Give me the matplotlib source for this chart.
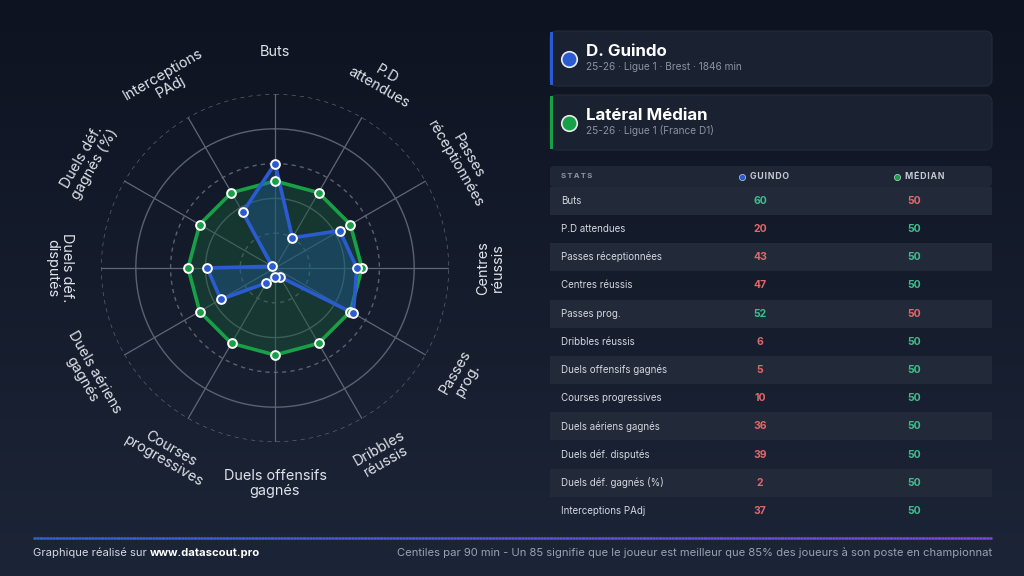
import numpy as np
import matplotlib
matplotlib.use("Agg")
import matplotlib.pyplot as plt
from matplotlib.colors import LinearSegmentedColormap
from matplotlib.patches import FancyBboxPatch, Rectangle

plt.rcParams['font.family'] = ['Inter', 'DejaVu Sans']

# data
stats = ["Buts", "P.D attendues", "Passes réceptionnées", "Centres réussis",
         "Passes prog.", "Dribbles réussis", "Duels offensifs gagnés",
         "Courses progressives", "Duels aériens gagnés", "Duels déf. disputés",
         "Duels déf. gagnés (%)", "Interceptions PAdj"]
radar_labels = ["Buts", "P.D\nattendues", "Passes\nréceptionnées", "Centres\nréussis",
                "Passes\nprog.", "Dribbles\nréussis", "Duels offensifs\ngagnés",
                "Courses\nprogressives", "Duels aériens\ngagnés", "Duels déf.\ndisputés",
                "Duels déf.\ngagnés (%)", "Interceptions\nPAdj"]
guindo = [60, 20, 43, 47, 52, 6, 5, 10, 36, 39, 2, 37]
median = [50, 50, 50, 50, 50, 50, 50, 50, 50, 50, 50, 50]

player_name = "D. Guindo"
player_info = "25-26 · Ligue 1 · Brest · 1846 min"
ref_name = "Latéral Médian"
ref_info = "25-26 · Ligue 1 (France D1)"

BLUE = "#2b5bd0"
GREEN = "#17a046"
UP = "#3dbf8c"
DOWN = "#e2676b"


def spaced(s, sep='\u200a'):
    return sep.join(s)


fig = plt.figure(figsize=(10.24, 5.76), dpi=100)

# background in pixel coords
bg = fig.add_axes([0, 0, 1, 1])
bg.set_xlim(0, 1024)
bg.set_ylim(576, 0)
bg.axis('off')
cmap_bg = LinearSegmentedColormap.from_list("bg", ["#0e1321", "#1c2537"])
grad = np.linspace(0, 1, 256).reshape(-1, 1)
bg.imshow(grad, extent=[0, 1024, 576, 0], aspect='auto', cmap=cmap_bg, zorder=0)

# player cards
cards = [(31, player_name, player_info, BLUE), (95, ref_name, ref_info, GREEN)]
for y, name, info, col in cards:
    bg.add_patch(FancyBboxPatch((550, y), 442, 55, boxstyle="round,pad=0,rounding_size=7",
                                fc="#1a2130", ec="#232b3b", lw=0.8, zorder=1))
    bg.add_patch(Rectangle((550, y + 1), 3, 53, fc=col, ec='none', zorder=2))
    bg.scatter([569], [y + 28], s=125, c=col, edgecolors='#e8ebf0', linewidths=1.2, zorder=3)
    bg.text(586, y + 20, name, color='white', fontsize=12.2, fontweight='bold', va='center', zorder=3)
    bg.text(586, y + 36, info, color='#8a92a2', fontsize=7.3, va='center', zorder=3)

# table
tx0, tw = 550, 442
bg.add_patch(FancyBboxPatch((tx0, 166), tw, 21, boxstyle="round,pad=0,rounding_size=4",
                            fc="#1f2737", ec='none', zorder=1))
bg.text(561, 176, spaced("STATS", '\u2009'), color='#8e96a5', fontsize=5.6, fontweight='bold',
        va='center', zorder=3)
col_g, col_m = 760, 914
bg.scatter([742], [176.5], s=20, c=BLUE, edgecolors='#c8cdd6', linewidths=0.5, zorder=3)
bg.text(750, 176.5, spaced("GUINDO"), color='#c4c9d2', fontsize=6.3, fontweight='bold',
        va='center', zorder=3)
bg.scatter([897], [176.5], s=20, c=GREEN, edgecolors='#c8cdd6', linewidths=0.5, zorder=3)
bg.text(905, 176.5, spaced("MÉDIAN"), color='#c4c9d2', fontsize=6.3, fontweight='bold',
        va='center', zorder=3)

row0, rh = 186.7, 28.2
for i, (s, g, m) in enumerate(zip(stats, guindo, median)):
    yt = row0 + rh * i
    if i % 2 == 0:
        bg.add_patch(Rectangle((tx0, yt), tw, rh, fc="#222a3a", ec='none', zorder=1))
    yc = yt + rh / 2
    bg.text(561, yc, s, color='#d3d7df', fontsize=7, va='center', zorder=3)
    bg.text(col_g, yc, str(g), color=UP if g > m else DOWN, fontsize=7.5,
            fontweight='bold', ha='center', va='center', zorder=3)
    bg.text(col_m, yc, str(m), color=UP if m >= g else DOWN, fontsize=7.5,
            fontweight='bold', ha='center', va='center', zorder=3)

# footer
line_x = np.linspace(33, 992, 300)
cmap_line = LinearSegmentedColormap.from_list("ln", ["#3560d8", "#7a48e0"])
for k in range(len(line_x) - 1):
    bg.plot(line_x[k:k + 2], [538, 538], color=cmap_line(k / (len(line_x) - 1)),
            lw=1.8, solid_capstyle='butt', zorder=3)
t1 = bg.text(33, 553, "Graphique réalisé sur ", color='#d3d7df', fontsize=8.1, va='center', zorder=3)
bg.annotate("www.datascout.pro", xy=(1, 0.5), xycoords=t1, xytext=(0, 0), textcoords='offset points',
            color='white', fontsize=8.1, fontweight='bold', va='center', ha='left', zorder=3)
bg.text(992, 553, "Centiles par 90 min - Un 85 signifie que le joueur est meilleur que 85% des joueurs à son poste en championnat",
        color='#9aa1ae', fontsize=8.1, va='center', ha='right', zorder=3)

# radar
cx, cy, R = 275, 268, 174
ax = fig.add_axes([(cx - R) / 1024, (576 - cy - R) / 576, 2 * R / 1024, 2 * R / 576], polar=True)
ax.set_facecolor('none')
ax.set_theta_zero_location('N')
ax.set_theta_direction(-1)
ax.set_ylim(0, 100)
ax.grid(False)
ax.spines['polar'].set_visible(False)
ax.set_xticks([])
ax.set_yticks([])

n = len(stats)
theta = np.arange(n) * 2 * np.pi / n
tt = np.linspace(0, 2 * np.pi, 400)
for r, ls in [(20, (0, (3, 3))), (40, '-'), (60, (0, (3, 3))), (80, '-'), (100, (0, (3, 3)))]:
    ax.plot(tt, np.full_like(tt, r), color='#5a6272', lw=1.0, ls=ls, zorder=1)
for t in theta:
    ax.plot([t, t], [0, 100], color='#5f6777', lw=0.9, zorder=1)

th_c = np.append(theta, theta[0])
med_c = np.append(median, median[0])
g_c = np.append(guindo, guindo[0])
ax.fill(th_c, med_c, color='#1a5a3a', alpha=0.45, zorder=2)
ax.plot(th_c, med_c, color=GREEN, lw=2.6, zorder=3)
ax.fill(th_c, g_c, color='#1f5fa8', alpha=0.35, zorder=4)
ax.plot(th_c, g_c, color=BLUE, lw=2.6, zorder=5)
ax.scatter(theta, median, s=40, c=GREEN, edgecolors='white', linewidths=1.4, zorder=6)
ax.scatter(theta, guindo, s=40, c=BLUE, edgecolors='white', linewidths=1.4, zorder=7)

for t, lab in zip(theta, radar_labels):
    ang = (90 - np.degrees(t)) % 360  # math angle
    if 0 < ang < 180:
        rot = ang - 90
    else:
        rot = ang + 90
    rot = (rot + 180) % 360 - 180
    ax.text(t, 124, lab, color='#dfe3ea', fontsize=10.4, ha='center', va='center',
            rotation=rot, rotation_mode='anchor', linespacing=1.05, clip_on=False)

fig.savefig("out.png", dpi=100)
